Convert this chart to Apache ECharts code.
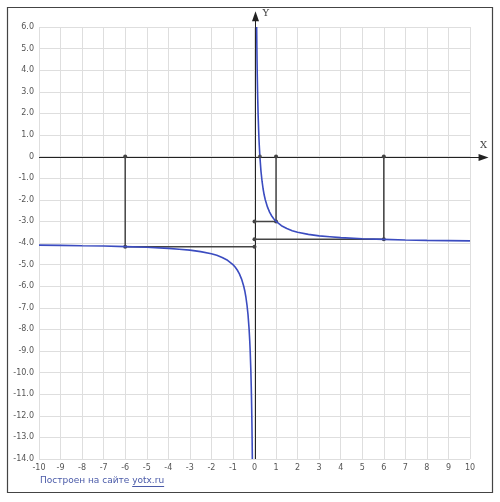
<!DOCTYPE html>
<html><head><meta charset="utf-8">
<script src="https://cdn.jsdelivr.net/npm/echarts@6/dist/echarts.min.js"></script>
<style>html,body{margin:0;padding:0;background:#fff}#c{width:500px;height:502px}</style>
</head><body><div id="c"></div>
<script>
// Curve, right branch
const posX = [0.1, 0.11, 0.12, 0.13, 0.14, 0.15, 0.17, 0.2, 0.22, 0.25, 0.3, 0.35, 0.4, 0.45, 0.5, 0.6, 0.7, 0.8, 0.9, 1, 1.25, 1.5, 1.75, 2, 2.5, 3, 3.5, 4, 5, 6, 7, 8, 9, 10];
const posY = [6.0, 5.09, 4.33, 3.69, 3.14, 2.67, 1.88, 1.0, 0.55, 0, -0.67, -1.14, -1.5, -1.78, -2.0, -2.33, -2.57, -2.75, -2.89, -3.0, -3.2, -3.33, -3.43, -3.5, -3.6, -3.67, -3.71, -3.75, -3.8, -3.83, -3.86, -3.88, -3.89, -3.9];
// left branch
const negX = [-10, -9, -8, -7, -6, -5, -4, -3.5, -3, -2.5, -2, -1.75, -1.5, -1.25, -1, -0.9, -0.8, -0.7, -0.6, -0.5, -0.45, -0.4, -0.35, -0.3, -0.25, -0.22, -0.2, -0.17, -0.15, -0.14, -0.13, -0.12, -0.11, -0.1];
const negY = [-4.1, -4.11, -4.13, -4.14, -4.17, -4.2, -4.25, -4.29, -4.33, -4.4, -4.5, -4.57, -4.67, -4.8, -5.0, -5.11, -5.25, -5.43, -5.67, -6.0, -6.22, -6.5, -6.86, -7.33, -8.0, -8.55, -9.0, -9.88, -10.67, -11.14, -11.69, -12.33, -13.09, -14.0];
// Helper segments (polylines through marked points)
const guide1 = [[-6, 0], [-6, -4.17], [0, -4.17]];
const guide2 = [[1, 0], [1, -3], [0, -3]];
const guide3 = [[6, 0], [6, -3.83], [0, -3.83]];
const markedPoints = [[0.25, 0]];
// Axis ranges
const xMin = -10, xMax = 10, yMin = -14, yMax = 6;
const xArrowEnd = 10.86, yArrowEnd = 6.73;
const footerText = 'Построен на сайте ';
const footerLink = 'yotx.ru';

const zip = (a, b) => a.map((v, i) => [v, b[i]]);
const chart = echarts.init(document.getElementById('c'), null, {renderer: 'canvas'});
const guideSeries = g => ({
  type: 'line', data: g, symbol: 'circle', symbolSize: 4, z: 3,
  itemStyle: {color: '#444'}, lineStyle: {color: '#444', width: 1.5}
});
const curveStyle = {color: '#3b4cc0', width: 1.6};
chart.setOption({
  animation: false,
  grid: {left: 39, right: 30, top: 27, bottom: 43},
  xAxis: {
    type: 'value', min: xMin, max: xMax, interval: 1,
    axisLine: {show: false}, axisTick: {show: false},
    axisLabel: {color: '#555', fontSize: 8, margin: 5, fontFamily: 'DejaVu Sans'},
    splitLine: {lineStyle: {color: '#dedede', width: 1}}
  },
  yAxis: {
    type: 'value', min: yMin, max: yMax, interval: 1,
    axisLine: {show: false}, axisTick: {show: false},
    axisLabel: {color: '#555', fontSize: 8, margin: 5, fontFamily: 'DejaVu Sans',
      formatter: v => v === 0 ? '0' : v.toFixed(1)},
    splitLine: {lineStyle: {color: '#dedede', width: 1}}
  },
  series: [
    guideSeries(guide1), guideSeries(guide2), guideSeries(guide3),
    {type: 'scatter', data: markedPoints, symbol: 'circle', symbolSize: 4, z: 5, itemStyle: {color: '#444'}},
    {type: 'line', data: zip(posX, posY), symbol: 'none', z: 4, lineStyle: curveStyle},
    {type: 'line', data: zip(negX, negY), symbol: 'none', z: 4, lineStyle: curveStyle}
  ]
});
// axes with arrows, positioned via the chart's scales
const P = (x, y) => chart.convertToPixel({gridIndex: 0}, [x, y]);
const o = P(0, 0), xs = P(xMin, 0), xe = P(xArrowEnd, 0), ys = P(0, yMin), ye = P(0, yArrowEnd);
const tmp1 = new echarts.graphic.Text({style: {text: footerText, font: '9px "DejaVu Sans"'}});
const w1 = tmp1.getBoundingRect().width;
const tmp2 = new echarts.graphic.Text({style: {text: footerLink, font: '9px "DejaVu Sans"'}});
const w2 = tmp2.getBoundingRect().width;
const fc = '#4a5aa8';
const oy = Math.round(o[1]) + 0.5, ox = Math.round(o[0]) + 0.5;
chart.setOption({graphic: [
  {type: 'rect', shape: {x: 7.5, y: 7.5, width: 485, height: 485}, style: {fill: 'none', stroke: '#444', lineWidth: 1.2}, z: 10},
  {type: 'line', shape: {x1: xs[0], y1: oy, x2: xe[0] - 4, y2: oy}, style: {stroke: '#222', lineWidth: 1}, z: 2},
  {type: 'line', shape: {x1: ox, y1: ys[1], x2: ox, y2: ye[1] + 4}, style: {stroke: '#222', lineWidth: 1}, z: 2},
  {type: 'polygon', shape: {points: [[xe[0], oy], [xe[0] - 10, oy - 3.5], [xe[0] - 10, oy + 3.5]]}, style: {fill: '#222'}, z: 2},
  {type: 'polygon', shape: {points: [[ox, ye[1]], [ox - 3.5, ye[1] + 10], [ox + 3.5, ye[1] + 10]]}, style: {fill: '#222'}, z: 2},
  {type: 'text', style: {text: 'X', x: xe[0] - 5, y: o[1] - 11, align: 'center', verticalAlign: 'middle', fill: '#444', font: '10px "DejaVu Serif"'}, z: 2},
  {type: 'text', style: {text: 'Y', x: o[0] + 8, y: ye[1] + 2.5, align: 'left', verticalAlign: 'middle', fill: '#444', font: '10px "DejaVu Serif"'}, z: 2},
  {type: 'text', style: {text: footerText, x: 40, y: 476, fill: fc, font: '9px "DejaVu Sans"'}},
  {type: 'text', style: {text: footerLink, x: 40 + w1, y: 476, fill: fc, font: '9px "DejaVu Sans"'}},
  {type: 'line', shape: {x1: 40 + w1, y1: 486.5, x2: 40 + w1 + w2, y2: 486.5}, style: {stroke: fc, lineWidth: 1}}
]});
</script></body></html>
